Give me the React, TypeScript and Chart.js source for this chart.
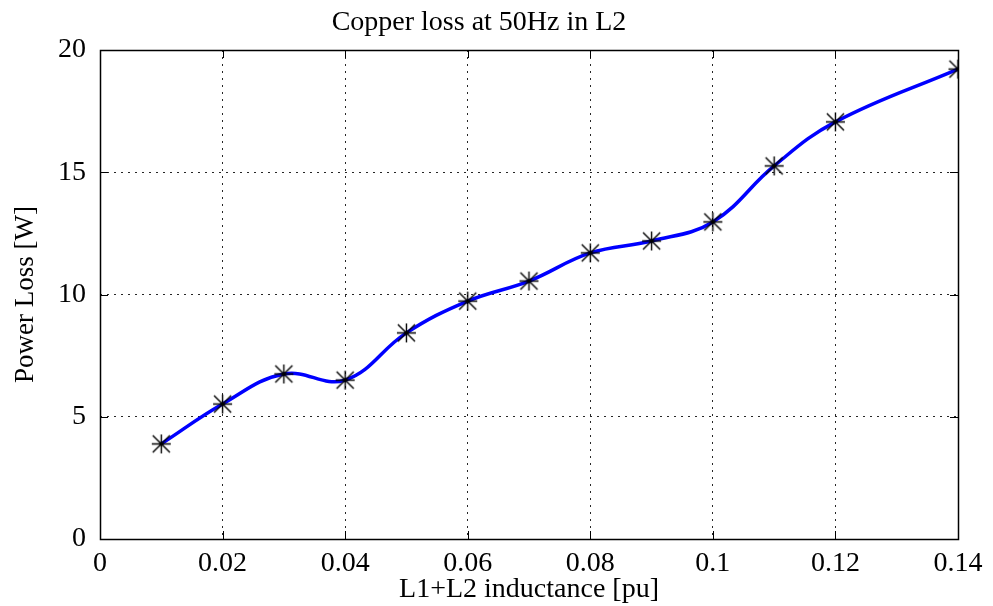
import React, { useEffect, useRef } from 'react';
import { Chart, registerables } from 'chart.js';

Chart.register(...registerables);

const inductance = [0.01, 0.02, 0.03, 0.04, 0.05, 0.06, 0.07, 0.08, 0.09, 0.1, 0.11, 0.12, 0.14];
const powerLoss = [3.89, 5.52, 6.75, 6.5, 8.43, 9.73, 10.55, 11.7, 12.19, 12.97, 15.26, 17.06, 19.22];
const xMin = 0;
const xMax = 0.14;
const xStep = 0.02;
const yMin = 0;
const yMax = 20;
const yStep = 5;
const titleText = 'Copper loss at 50Hz in L2';
const xLabel = 'L1+L2 inductance [pu]';
const yLabel = 'Power Loss [W]';

const FONT = 'Liberation Serif, Times New Roman, serif';

function makeStar(): HTMLCanvasElement {
  const c = document.createElement('canvas');
  c.width = 21;
  c.height = 21;
  const g = c.getContext('2d')!;
  g.strokeStyle = '#000';
  g.lineWidth = 1.4;
  const m = 10.5;
  const r = 9.5;
  const d = r * 0.9;
  g.beginPath();
  g.moveTo(m - r, m);
  g.lineTo(m + r, m);
  g.moveTo(m, m - r);
  g.lineTo(m, m + r);
  g.moveTo(m - d, m - d);
  g.lineTo(m + d, m + d);
  g.moveTo(m - d, m + d);
  g.lineTo(m + d, m - d);
  g.stroke();
  return c;
}

const framePlugin = {
  id: 'frame',
  beforeDatasetsDraw(chart: any) {
    const { ctx, chartArea } = chart;
    const { left, right, top, bottom } = chartArea;
    const xs = chart.scales.x;
    const ys = chart.scales.y;
    const tl = 8;
    ctx.save();
    ctx.strokeStyle = '#000';
    ctx.lineWidth = 1;
    ctx.setLineDash([]);
    ctx.beginPath();
    xs.ticks.forEach((t: any) => {
      const px = Math.round(xs.getPixelForValue(t.value)) + 0.5;
      ctx.moveTo(px, bottom);
      ctx.lineTo(px, bottom - tl);
      ctx.moveTo(px, top);
      ctx.lineTo(px, top + tl);
    });
    ys.ticks.forEach((t: any) => {
      const py = Math.round(ys.getPixelForValue(t.value)) + 0.5;
      ctx.moveTo(left, py);
      ctx.lineTo(left + tl, py);
      ctx.moveTo(right, py);
      ctx.lineTo(right - tl, py);
    });
    ctx.stroke();
    ctx.lineWidth = 1.5;
    ctx.strokeRect(Math.round(left) + 0.5, Math.round(top) + 0.5, Math.round(right - left), Math.round(bottom - top));
    ctx.restore();
  },
};

export default function App() {
  const ref = useRef<HTMLCanvasElement | null>(null);

  useEffect(() => {
    if (!ref.current) return;
    const pts = inductance.map((x, i) => ({ x, y: powerLoss[i] }));
    const star = makeStar();
    const chart = new Chart(ref.current, {
      type: 'scatter',
      data: {
        datasets: [
          {
            label: 'markers',
            data: pts,
            showLine: false,
            pointStyle: star as any,
            pointRadius: 10,
            pointHoverRadius: 10,
          },
          {
            label: 'curve',
            data: pts,
            showLine: true,
            borderColor: '#0000ff',
            borderWidth: 3.5,
            tension: 0.4,
            pointRadius: 0,
            pointHoverRadius: 0,
            fill: false,
          },
        ],
      },
      options: {
        animation: false,
        responsive: true,
        maintainAspectRatio: false,
        layout: { padding: { left: 0, right: 35, top: 0, bottom: 0 } },
        plugins: {
          legend: { display: false },
          tooltip: { enabled: false },
          title: {
            display: true,
            text: titleText,
            color: '#000',
            font: { family: FONT, size: 28, weight: 'normal', lineHeight: 1.2 },
            padding: { top: 6, bottom: 10.4 },
          },
        },
        scales: {
          x: {
            type: 'linear',
            min: xMin,
            max: xMax,
            afterFit: (s: any) => {
              s.height = 67;
            },
            ticks: {
              stepSize: xStep,
              color: '#000',
              padding: 8,
              maxRotation: 0,
              font: { family: FONT, size: 28 },
              callback: (v: any) => String(Number(Number(v).toFixed(2))),
            },
            grid: { color: 'rgba(0,0,0,0.85)', lineWidth: 1, drawTicks: false },
            border: { display: false, dash: [2, 5] },
            title: {
              display: true,
              text: xLabel,
              color: '#000',
              font: { family: FONT, size: 28, lineHeight: 1.2 },
              padding: { top: 0, bottom: 0 },
            },
          },
          y: {
            type: 'linear',
            min: yMin,
            max: yMax,
            afterFit: (s: any) => {
              s.width = 100;
            },
            ticks: {
              stepSize: yStep,
              color: '#000',
              padding: 14,
              font: { family: FONT, size: 28 },
            },
            grid: { color: 'rgba(0,0,0,0.85)', lineWidth: 1, drawTicks: false },
            border: { display: false, dash: [2, 5] },
            title: {
              display: true,
              text: yLabel,
              color: '#000',
              font: { family: FONT, size: 27, lineHeight: 1.2 },
              padding: { top: 10, bottom: 0 },
            },
          },
        },
      },
      plugins: [framePlugin],
    });
    return () => chart.destroy();
  }, []);

  return (
    <div style={{ position: 'fixed', left: 0, top: 0, width: 993, height: 606, background: '#fff' }}>
      <canvas ref={ref} />
    </div>
  );
}
